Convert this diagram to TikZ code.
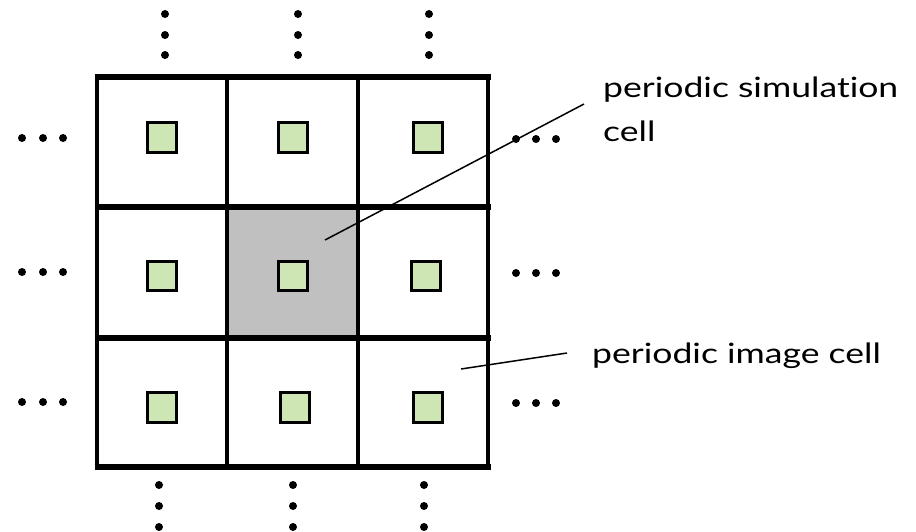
\documentclass[tikz,border=0pt]{standalone}
\usepackage{fontspec}
\setmainfont{Lato}
\newfontfamily\lblfont[FakeStretch=1.27,Ligatures=NoCommon]{Lato}
\definecolor{cellgray}{RGB}{192,192,192}
\definecolor{partgreen}{RGB}{205,230,180}
\begin{document}
\begin{tikzpicture}[x=1pt,y=-1pt,
  cellarea/.style={minimum size=130.5pt,inner sep=0pt,outer sep=0pt},
  simcell/.style={cellarea,fill=cellgray},
  particle/.style={draw=black,line width=3pt,fill=partgreen,minimum size=29.5pt,inner sep=0pt},
  dotmark/.style={circle,fill=black,minimum size=8pt,inner sep=0pt},
  hline/.style={line width=5.5pt},
  vline/.style={line width=4pt},
  leader/.style={line width=1.5pt},
  lbl/.style={anchor=base west,inner sep=0pt,font=\lblfont\fontsize{28}{34}\selectfont}]
\useasboundingbox (0,0) rectangle (916,531);
% cells
\node[cellarea] (c11) at (162,142) {};
\node[cellarea] (c12) at (292.5,142) {};
\node[cellarea] (c13) at (423,142) {};
\node[cellarea] (c21) at (162,272.5) {};
\node[simcell]  (c22) at (292.5,272.5) {};
\node[cellarea] (c23) at (423,272.5) {};
\node[cellarea] (c31) at (162,402.5) {};
\node[cellarea] (c32) at (292.5,402.5) {};
\node[cellarea] (c33) at (423,402.5) {};
% grid lines
\foreach \x in {97,227,358,488} \draw[vline] (\x,77) -- (\x,467);
\foreach \y in {77,207,338,467} \draw[hline] (94.5,\y) -- (490.5,\y);
% particles
\node[particle] (p11) at (162,137.5) {};
\node[particle] (p12) at (293,137.5) {};
\node[particle] (p13) at (428,137.5) {};
\node[particle] (p21) at (162,276) {};
\node[particle] (p22) at (293,276) {};
\node[particle] (p23) at (426,276) {};
\node[particle] (p31) at (162,407.5) {};
\node[particle] (p32) at (295,407.5) {};
\node[particle] (p33) at (428,407.5) {};
% vertical dots above and below
\foreach \x [count=\i] in {165,298,429} {
  \foreach \y [count=\j] in {14,35,55} \node[dotmark] (top\i\j) at (\x,\y) {};
}
\foreach \x [count=\i] in {159,293,424} {
  \foreach \y [count=\j] in {485,506,527} \node[dotmark] (bot\i\j) at (\x,\y) {};
}
% horizontal dots left and right
\foreach \y [count=\i] in {138,272,402} {
  \foreach \x [count=\j] in {22,43,63} \node[dotmark] (lft\i\j) at (\x,\y) {};
  \foreach \x [count=\j] in {516,536,556} \node[dotmark] (rgt\i\j) at (\x,\y+1) {};
}
% labels
\node[lbl] (simlabel) at (603,97) {periodic simulation};
\node[lbl] (simlabelb) at (603,141) {cell};
\node[lbl] (imglabel) at (592,363) {periodic image cell};
% leaders
\coordinate (simtip) at (325,240);
\coordinate (simend) at (584,104);
\coordinate (imgtip) at (461,369);
\coordinate (imgend) at (567,353);
\draw[leader] (simtip) -- (simend);
\draw[leader] (imgtip) -- (imgend);
\end{tikzpicture}
\end{document}
